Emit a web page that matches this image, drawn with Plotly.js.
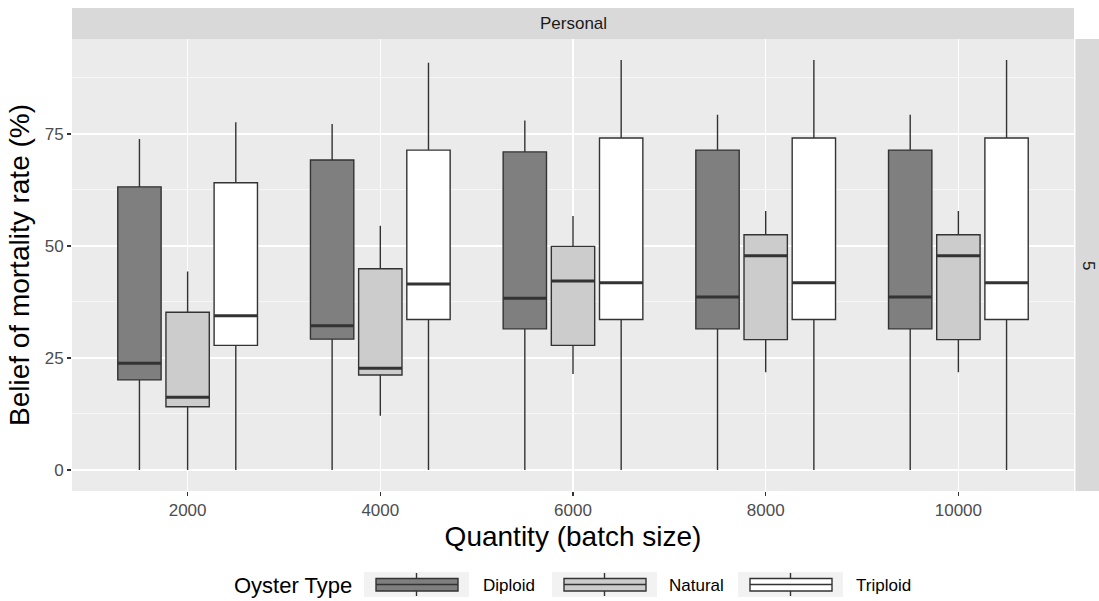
<!DOCTYPE html>
<html>
<head>
<meta charset="utf-8">
<script src="https://cdn.plot.ly/plotly-3.0.1.min.js"></script>
<style>html,body{margin:0;padding:0;background:#fff;}#chart{width:1099px;height:601px;}</style>
</head>
<body>
<div id="chart"></div>
<script>
const quantities = ["2000", "4000", "6000", "8000", "10000"];
const oysterTypes = ["Diploid", "Natural", "Triploid"];

const diploidLower  = [0, 0, 0, 0, 0];
const diploidQ1     = [20.1, 29.2, 31.5, 31.5, 31.5];
const diploidMedian = [23.8, 32.2, 38.3, 38.6, 38.6];
const diploidQ3     = [63.2, 69.2, 71.0, 71.4, 71.4];
const diploidUpper  = [73.9, 77.2, 78.0, 79.3, 79.3];

const naturalLower  = [0, 12.1, 21.4, 21.8, 21.8];
const naturalQ1     = [14.1, 21.2, 27.8, 29.1, 29.1];
const naturalMedian = [16.2, 22.7, 42.2, 47.8, 47.8];
const naturalQ3     = [35.2, 44.9, 49.9, 52.5, 52.5];
const naturalUpper  = [44.3, 54.5, 56.7, 57.8, 57.8];

const triploidLower  = [0, 0, 0, 0, 0];
const triploidQ1     = [27.8, 33.6, 33.6, 33.6, 33.6];
const triploidMedian = [34.4, 41.5, 41.8, 41.8, 41.8];
const triploidQ3     = [64.1, 71.4, 74.1, 74.1, 74.1];
const triploidUpper  = [77.6, 90.9, 91.5, 91.5, 91.5];

const yTicks = [0, 25, 50, 75];
const yMinorTicks = [12.5, 37.5, 62.5, 87.5];

const fills = ["#7F7F7F", "#CCCCCC", "#FFFFFF"];
const stats = [
  [diploidLower, diploidQ1, diploidMedian, diploidQ3, diploidUpper],
  [naturalLower, naturalQ1, naturalMedian, naturalQ3, naturalUpper],
  [triploidLower, triploidQ1, triploidMedian, triploidQ3, triploidUpper]
];

const traces = [];
oysterTypes.forEach((name, i) => {
  traces.push({
    type: "box",
    name: name,
    x: quantities,
    lowerfence: stats[i][0],
    q1: stats[i][1],
    median: stats[i][2],
    q3: stats[i][3],
    upperfence: stats[i][4],
    offsetgroup: name,
    fillcolor: fills[i],
    line: {color: "#333333", width: 1.4},
    whiskerwidth: 0,
    boxpoints: false,
    showlegend: false,
    hoverinfo: "skip"
  });
});
// thicker median bars (ggplot fatten), drawn from the median arrays
oysterTypes.forEach((name, i) => {
  const m = stats[i][2];
  traces.push({
    type: "box",
    name: name + " median",
    x: quantities,
    lowerfence: m, q1: m, median: m, q3: m, upperfence: m,
    offsetgroup: name,
    fillcolor: "rgba(0,0,0,0)",
    line: {color: "#333333", width: 3},
    whiskerwidth: 0,
    boxpoints: false,
    showlegend: false,
    hoverinfo: "skip"
  });
});

// pixel helpers for the panel (plot area 72..1074 x 39..491)
const PL = 72, PR = 1074, PT = 39, PB = 491;
const px = v => (v - PL) / (PR - PL);
const py = v => (PB - v) / (PB - PT);

const shapes = [
  {type: "rect", xref: "paper", yref: "paper", x0: 0, x1: 1, y0: 1, y1: py(8),
   fillcolor: "#D9D9D9", line: {width: 0}, layer: "below"},
  {type: "rect", xref: "paper", yref: "paper", x0: px(1075.5), x1: px(1110), y0: 0, y1: 1,
   fillcolor: "#D9D9D9", line: {width: 0}, layer: "below"}
];
const annotations = [
  {text: "Personal", xref: "paper", yref: "paper", x: 0.5, y: py(23.5),
   showarrow: false, font: {size: 17, color: "#1A1A1A"}, xanchor: "center", yanchor: "middle"},
  {text: "5", xref: "paper", yref: "paper", x: px(1089), y: 0.5, textangle: 90,
   showarrow: false, font: {size: 17, color: "#1A1A1A"}, xanchor: "center", yanchor: "middle"},
  {text: "Oyster Type", xref: "paper", yref: "paper", x: px(232), y: py(585),
   showarrow: false, font: {size: 22, color: "#000000"}, xanchor: "left", yanchor: "middle"}
];

// legend keys
const keyLeft = [364, 552, 738];
const labelLeft = [481, 667, 854];
oysterTypes.forEach((name, i) => {
  const kx = keyLeft[i];
  shapes.push({type: "rect", xref: "paper", yref: "paper", x0: px(kx), x1: px(kx + 105), y0: py(597), y1: py(572),
    fillcolor: "#F2F2F2", line: {width: 0}});
  shapes.push({type: "line", xref: "paper", yref: "paper", x0: px(kx + 52.5), x1: px(kx + 52.5), y0: py(596), y1: py(573),
    line: {color: "#333333", width: 1.4}});
  shapes.push({type: "rect", xref: "paper", yref: "paper", x0: px(kx + 12), x1: px(kx + 94), y0: py(591), y1: py(578.5),
    fillcolor: fills[i], line: {color: "#333333", width: 1.4}});
  shapes.push({type: "line", xref: "paper", yref: "paper", x0: px(kx + 12), x1: px(kx + 94), y0: py(584.5), y1: py(584.5),
    line: {color: "#333333", width: 1.4}});
  annotations.push({text: name, xref: "paper", yref: "paper", x: px(labelLeft[i]), y: py(585),
    showarrow: false, font: {size: 17, color: "#000000"}, xanchor: "left", yanchor: "middle"});
});

const layout = {
  width: 1099,
  height: 601,
  margin: {l: PL, r: 1099 - PR, t: PT, b: 601 - PB},
  paper_bgcolor: "#FFFFFF",
  plot_bgcolor: "#EBEBEB",
  font: {family: "Liberation Sans, Arial, sans-serif", color: "#000000"},
  boxmode: "group",
  boxgap: 0.25,
  boxgroupgap: 0.1,
  showlegend: false,
  xaxis: {
    type: "category",
    range: [-0.6, 4.6],
    showgrid: true,
    gridcolor: "#FFFFFF",
    gridwidth: 1.3,
    zeroline: false,
    ticks: "outside",
    ticklen: 4,
    tickwidth: 1.1,
    tickcolor: "#333333",
    tickfont: {size: 17, color: "#4D4D4D"},
    title: {text: "Quantity (batch size)", font: {size: 28, color: "#000000"}, standoff: 6},
    fixedrange: true
  },
  yaxis: {
    range: [-4.7, 96.2],
    tickvals: yTicks,
    showgrid: true,
    gridcolor: "#FFFFFF",
    gridwidth: 1.3,
    minor: {tickvals: yMinorTicks, showgrid: true, gridcolor: "#FFFFFF", gridwidth: 0.6, ticks: ""},
    zeroline: false,
    ticks: "outside",
    ticklen: 4,
    tickwidth: 1.1,
    tickcolor: "#333333",
    tickfont: {size: 17, color: "#4D4D4D"},
    title: {text: "Belief of mortality rate (%)", font: {size: 28, color: "#000000"}, standoff: 6},
    fixedrange: true
  },
  shapes: shapes,
  annotations: annotations
};

Plotly.newPlot("chart", traces, layout, {displayModeBar: false, staticPlot: true});
</script>
</body>
</html>
